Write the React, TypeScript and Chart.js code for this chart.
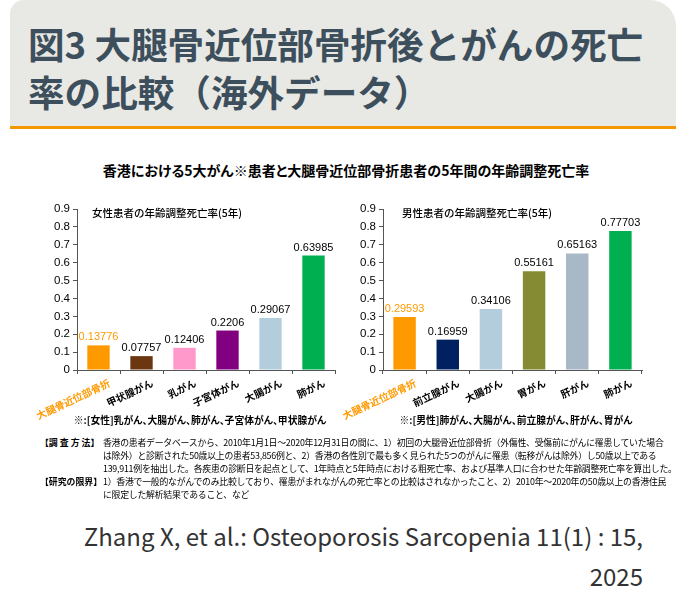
import React, { useEffect, useRef } from 'react';
import { Chart, registerables } from 'chart.js';

Chart.register(...registerables);

// ---- data ----
const femaleCategories = ['大腿骨近位部骨折', '甲状腺がん', '乳がん', '子宮体がん', '大腸がん', '肺がん'];
const femaleValues = [0.13776, 0.07757, 0.12406, 0.2206, 0.29067, 0.63985];
const femaleColors = ['#FF9900', '#6B3710', '#FF99CC', '#800080', '#B4CDDD', '#00B050'];

const maleCategories = ['大腿骨近位部骨折', '前立腺がん', '大腸がん', '胃がん', '肝がん', '肺がん'];
const maleValues = [0.29593, 0.16959, 0.34106, 0.55161, 0.65163, 0.77703];
const maleColors = ['#FF9900', '#002060', '#B4CDDD', '#848B33', '#A9B8C6', '#00B050'];

const yMin = 0;
const yMax = 0.9;
const yStep = 0.1;

const ORANGE = '#FF9900';
const CJK = '"Noto Sans CJK JP", "Noto Sans", sans-serif';
const NUM = '"Liberation Sans", Arial, sans-serif';
const AXIS = '#555555';

const valueLabelPlugin = {
  id: 'valueLabels',
  afterDatasetsDraw(chart: any) {
    const ctx = chart.ctx;
    const meta = chart.getDatasetMeta(0);
    const values = chart.data.datasets[0].data;
    ctx.save();
    ctx.font = `11px ${NUM}`;
    ctx.textAlign = 'center';
    ctx.textBaseline = 'alphabetic';
    meta.data.forEach((bar: any, i: number) => {
      ctx.fillStyle = i === 0 ? ORANGE : '#000000';
      ctx.fillText(String(values[i]), bar.x, bar.y - 5);
    });
    ctx.restore();
  },
};

function makeConfig(categories: string[], values: number[], colors: string[], yAxisWidth: number, padRight: number): any {
  return {
    type: 'bar',
    data: {
      labels: categories,
      datasets: [
        {
          data: values,
          backgroundColor: colors,
          borderWidth: 0,
          barPercentage: 0.52,
          categoryPercentage: 1,
        },
      ],
    },
    options: {
      animation: false,
      responsive: false,
      maintainAspectRatio: false,
      devicePixelRatio: 1,
      layout: { autoPadding: false, padding: { top: 19, right: padRight, left: 0, bottom: 0 } },
      plugins: { legend: { display: false }, tooltip: { enabled: false }, title: { display: false } },
      scales: {
        x: {
          grid: { display: true, drawOnChartArea: false, drawTicks: true, tickLength: 4, color: AXIS, offset: true },
          border: { display: true, color: AXIS, width: 1 },
          ticks: {
            autoSkip: false,
            minRotation: 25,
            maxRotation: 25,
            labelOffset: 11,
            padding: 3,
            color: (c: any) => (c.index === 0 ? ORANGE : '#000000'),
            font: { family: CJK, size: 10, weight: 'bold' },
          },
          afterFit: (s: any) => {
            s.height = 50;
            s.paddingLeft = 0;
            s.paddingRight = 0;
          },
        },
        y: {
          min: yMin,
          max: yMax,
          ticks: {
            stepSize: yStep,
            padding: 3,
            color: '#000000',
            font: { family: NUM, size: 11.5 },
            callback: (v: any) => String(Math.round(Number(v) * 10) / 10),
          },
          grid: { display: true, drawOnChartArea: false, drawTicks: true, tickLength: 4, color: AXIS },
          border: { display: true, color: AXIS, width: 1 },
          afterFit: (s: any) => {
            s.width = yAxisWidth;
            s.paddingTop = 0;
            s.paddingBottom = 0;
          },
        },
      },
    },
    plugins: [valueLabelPlugin],
  };
}

function BarPanel(props: { categories: string[]; values: number[]; colors: string[]; left: number; top: number; yAxisWidth: number; padRight: number }) {
  const ref = useRef<HTMLCanvasElement | null>(null);
  useEffect(() => {
    if (!ref.current) return;
    const chart = new Chart(ref.current, makeConfig(props.categories, props.values, props.colors, props.yAxisWidth, props.padRight));
    return () => chart.destroy();
  }, []);
  return (
    <canvas
      ref={ref}
      width={320}
      height={230}
      style={{ position: 'absolute', left: props.left, top: props.top, width: 320, height: 230 }}
    />
  );
}

export default function App() {
  const abs = (s: React.CSSProperties): React.CSSProperties => ({ position: 'absolute', ...s });
  return (
    <div style={abs({ left: 0, top: 0, width: 686, height: 600, background: '#ffffff', overflow: 'hidden', fontFamily: CJK })}>
      <div style={abs({ left: 10, top: 0, width: 666, height: 126, background: '#E8E9E4', borderRadius: '14px 26px 0 0' })} />
      <div
        style={abs({
          left: 28,
          top: 20,
          fontSize: 36.6,
          lineHeight: '48px',
          fontWeight: 'bold',
          color: '#3D4F5C',
          whiteSpace: 'nowrap',
        })}
      >
        図3 大腿骨近位部骨折後とがんの死亡
        <br />
        率の比較（海外データ）
      </div>
      <div style={abs({ left: 10, top: 126, width: 666, height: 3, background: '#F39800' })} />

      <div
        style={abs({
          left: 0,
          width: 692,
          top: 160,
          textAlign: 'center',
          fontSize: 14,
          lineHeight: '20px',
          fontWeight: 'bold',
          color: '#000',
          whiteSpace: 'nowrap',
          fontFeatureSettings: '"palt"',
        })}
      >
        香港における5大がん※患者と大腿骨近位部骨折患者の5年間の年齢調整死亡率
      </div>

      <BarPanel categories={femaleCategories} values={femaleValues} colors={femaleColors} left={20} top={190} yAxisWidth={57} padRight={5} />
      <BarPanel categories={maleCategories} values={maleValues} colors={maleColors} left={340} top={190} yAxisWidth={43} padRight={18} />

      <div style={abs({ left: 92, top: 205, fontSize: 10.5, lineHeight: '16px', fontWeight: 500, color: '#000', whiteSpace: 'nowrap' })}>
        女性患者の年齢調整死亡率(5年)
      </div>
      <div style={abs({ left: 402, top: 205, fontSize: 10.5, lineHeight: '16px', fontWeight: 500, color: '#000', whiteSpace: 'nowrap' })}>
        男性患者の年齢調整死亡率(5年)
      </div>

      <div
        style={abs({ left: 0, width: 400, top: 413, textAlign: 'center', fontSize: 9.8, lineHeight: '14px', fontWeight: 'bold', whiteSpace: 'nowrap', fontFeatureSettings: '"palt"' })}
      >
        ※:[女性]乳がん、大腸がん、肺がん、子宮体がん、甲状腺がん
      </div>
      <div
        style={abs({ left: 316, width: 400, top: 413, textAlign: 'center', fontSize: 9.8, lineHeight: '14px', fontWeight: 'bold', whiteSpace: 'nowrap', fontFeatureSettings: '"palt"' })}
      >
        ※:[男性]肺がん、大腸がん、前立腺がん、肝がん、胃がん
      </div>

      <div style={abs({ left: 40, top: 436, fontSize: 8.9, lineHeight: '13px', color: '#000', whiteSpace: 'nowrap' })}>
        <div style={abs({ left: 0, top: 0, fontWeight: 'bold' })}>【調 査 方 法】</div>
        <div style={abs({ left: 63, top: 0, letterSpacing: '-0.25px' })}>
          香港の患者データベースから、2010年1月1日～2020年12月31日の間に、1）初回の大腿骨近位部骨折（外傷性、受傷前にがんに罹患していた場合
          <br />
          は除外）と診断された50歳以上の患者53,856例と、2）香港の各性別で最も多く見られた5つのがんに罹患（転移がんは除外）し50歳以上である
          <br />
          139,911例を抽出した。各疾患の診断日を起点として、1年時点と5年時点における粗死亡率、および基準人口に合わせた年齢調整死亡率を算出した。
        </div>
        <div style={abs({ left: 0, top: 39, fontWeight: 'bold' })}>【研究の限界】</div>
        <div style={abs({ left: 63, top: 39, letterSpacing: '-0.25px' })}>
          1）香港で一般的ながんでのみ比較しており、罹患がまれながんの死亡率との比較はされなかったこと、2）2010年～2020年の50歳以上の香港住民
          <br />
          に限定した解析結果であること、など
        </div>
      </div>

      <div
        style={abs({
          left: 0,
          width: 643,
          top: 516,
          textAlign: 'right',
          fontSize: 24,
          lineHeight: '40px',
          color: '#333333',
          whiteSpace: 'nowrap',
        })}
      >
        Zhang X, et al.: Osteoporosis Sarcopenia 11(1) : 15,
        <br />
        2025
      </div>
    </div>
  );
}
